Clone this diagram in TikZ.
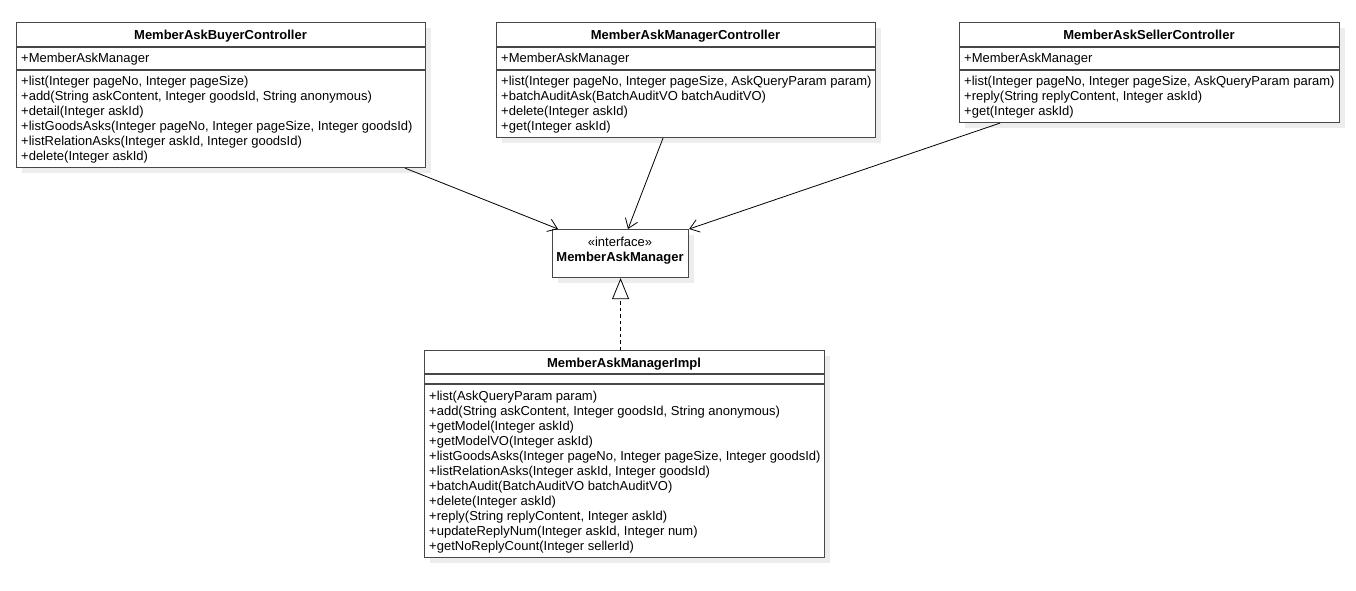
\documentclass[tikz,border=0pt]{standalone}
\usepackage{fontspec}
\setmainfont{Liberation Sans}
\usetikzlibrary{arrows.meta,shadows}
\begin{document}
\begin{tikzpicture}[x=1pt,y=1pt,
  umlbox/.style={draw=black!72, line width=1.1pt, fill=white, rectangle, inner sep=0pt, anchor=north west,
    drop shadow={shadow xshift=5pt, shadow yshift=-5pt, fill=black!7, opacity=1}},
  sepline/.style={draw=black!72, line width=1.1pt},
  rowtext/.style={anchor=base west, inner sep=0pt, font=\fontsize{13}{15}\selectfont},
  titletext/.style={anchor=base, inner sep=0pt, font=\fontsize{13}{15}\selectfont\bfseries},
  stereo/.style={anchor=base, inner sep=0pt, font=\fontsize{13}{15}\selectfont},
  assoc/.style={draw=black, line width=0.8pt, -{Straight Barb[length=9pt,width=13pt]}},
  realize/.style={draw=black, line width=0.8pt, dash pattern=on 3.5pt off 3pt, -{Triangle[open,length=21pt,width=17pt,fill=white]}}]
\useasboundingbox[fill=white] (0,0) rectangle (1356,-590);

% ---- MemberAskBuyerController
\node[umlbox, minimum width=409pt, minimum height=145pt] (buyer) at (16,-22) {};
\draw[sepline] (16,-47) -- (425,-47);
\draw[sepline] (16,-70) -- (425,-70);
\node[titletext] (buyert) at (220.5,-39.5) {MemberAskBuyerController};
\node[rowtext] (buyera) at (21,-62.5) {+MemberAskManager};
\foreach \t [count=\i from 0] in {{+list(Integer pageNo, Integer pageSize)},
  {+add(String askContent, Integer goodsId, String anonymous)},
  {+detail(Integer askId)},
  {+listGoodsAsks(Integer pageNo, Integer pageSize, Integer goodsId)},
  {+listRelationAsks(Integer askId, Integer goodsId)},
  {+delete(Integer askId)}}
  \node[rowtext] (buyerm\i) at (21,{-85-15*\i}) {\t};

% ---- MemberAskManagerController
\node[umlbox, minimum width=379pt, minimum height=115pt] (mgr) at (496,-22) {};
\draw[sepline] (496,-47) -- (875,-47);
\draw[sepline] (496,-70) -- (875,-70);
\node[titletext] (mgrt) at (685.5,-39.5) {MemberAskManagerController};
\node[rowtext] (mgra) at (501,-62.5) {+MemberAskManager};
\foreach \t [count=\i from 0] in {{+list(Integer pageNo, Integer pageSize, AskQueryParam param)},
  {+batchAuditAsk(BatchAuditVO batchAuditVO)},
  {+delete(Integer askId)},
  {+get(Integer askId)}}
  \node[rowtext] (mgrm\i) at (501,{-85-15*\i}) {\t};

% ---- MemberAskSellerController
\node[umlbox, minimum width=380pt, minimum height=100pt] (seller) at (959,-22) {};
\draw[sepline] (959,-47) -- (1339,-47);
\draw[sepline] (959,-70) -- (1339,-70);
\node[titletext] (sellert) at (1149,-39.5) {MemberAskSellerController};
\node[rowtext] (sellera) at (964,-62.5) {+MemberAskManager};
\foreach \t [count=\i from 0] in {{+list(Integer pageNo, Integer pageSize, AskQueryParam param)},
  {+reply(String replyContent, Integer askId)},
  {+get(Integer askId)}}
  \node[rowtext] (sellerm\i) at (964,{-85-15*\i}) {\t};

% ---- interface MemberAskManager
\node[umlbox, minimum width=136pt, minimum height=48pt] (iface) at (552,-229) {};
\node[stereo] (ifaces) at (620,-246) {«interface»};
\node[titletext] (ifacet) at (620,-261) {MemberAskManager};

% ---- MemberAskManagerImpl
\node[umlbox, minimum width=400pt, minimum height=207pt] (impl) at (424,-350) {};
\draw[sepline] (424,-374) -- (824,-374);
\draw[sepline] (424,-384) -- (824,-384);
\node[titletext] (implt) at (624,-367.5) {MemberAskManagerImpl};
\foreach \t [count=\i from 0] in {{+list(AskQueryParam param)},
  {+add(String askContent, Integer goodsId, String anonymous)},
  {+getModel(Integer askId)},
  {+getModelVO(Integer askId)},
  {+listGoodsAsks(Integer pageNo, Integer pageSize, Integer goodsId)},
  {+listRelationAsks(Integer askId, Integer goodsId)},
  {+batchAudit(BatchAuditVO batchAuditVO)},
  {+delete(Integer askId)},
  {+reply(String replyContent, Integer askId)},
  {+updateReplyNum(Integer askId, Integer num)},
  {+getNoReplyCount(Integer sellerId)}}
  \node[rowtext] (implm\i) at (429,{-400-15*\i}) {\t};

% ---- connectors
\draw[assoc] ([xshift=389pt]buyer.south west) -- ([xshift=6pt]iface.north west);
\draw[assoc] ([xshift=167pt]mgr.south west) -- ([xshift=76pt]iface.north west);
\draw[assoc] ([xshift=41pt]seller.south west) -- (iface.north east);
\draw[realize] (iface.south |- impl.north) -- (iface.south);
\end{tikzpicture}
\end{document}
